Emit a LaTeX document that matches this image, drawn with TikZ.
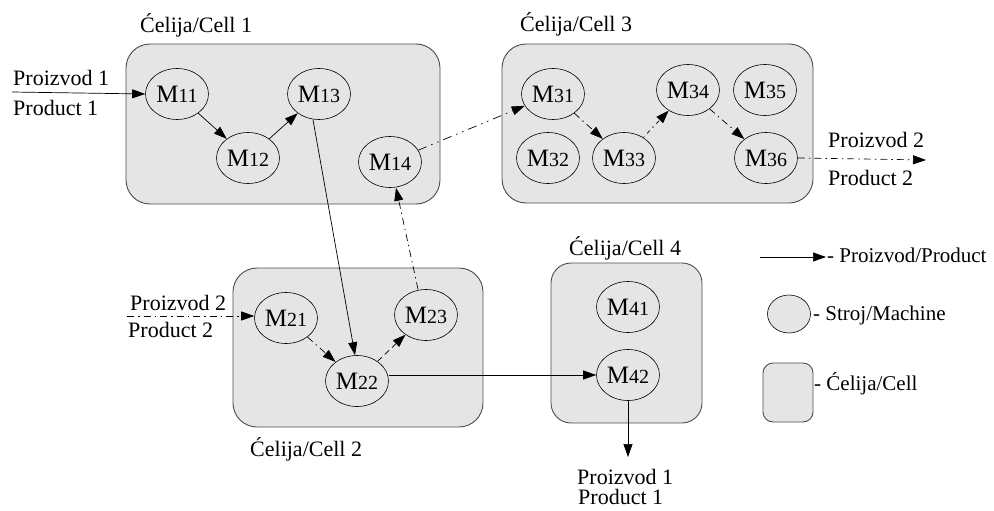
\documentclass[tikz,border=0pt]{standalone}
\usepackage{fontspec}
\setmainfont{Liberation Serif}
\usetikzlibrary{shapes.geometric,arrows.meta}

\newcommand{\mach}[2]{{\fontsize{25}{28}\selectfont M}{\fontsize{20}{24}\selectfont #1#2}}

\begin{document}
\begin{tikzpicture}[x=1pt,y=-1pt,
  txt/.style={font=\fontsize{22}{26}\selectfont, inner sep=0pt, anchor=base west},
  legtxt/.style={font=\fontsize{21}{25}\selectfont, inner sep=0pt, anchor=base west},
  cellbox/.style={draw=black!70, line width=0.9pt, fill=black!10, rectangle,
    rounded corners=24pt, inner sep=0pt},
  machine/.style={draw=black, line width=0.6pt, fill=black!10, ellipse, inner sep=0pt,
    minimum width=63pt, minimum height=51pt},
  flow/.style={line width=0.7pt, -{Triangle[length=13pt,width=9pt]}},
  dd/.style={dash pattern=on 7pt off 4pt on 1.5pt off 4pt},
  ddd/.style={dash pattern=on 9pt off 5pt on 1.5pt off 5pt on 1.5pt off 5pt},
  dotd/.style={dash pattern=on 1.5pt off 4pt on 4pt off 4pt}]

\useasboundingbox (0,0) rectangle (994,511);

% cells
\node[cellbox, minimum width=314pt, minimum height=160pt] (c1) at (283,124) {};
\node[cellbox, minimum width=311pt, minimum height=159pt] (c3) at (657.5,123.5) {};
\node[cellbox, minimum width=250pt, minimum height=159pt] (c2) at (358,347.5) {};
\node[cellbox, minimum width=151pt, minimum height=160pt, rounded corners=20pt] (c4) at (626.5,343) {};

\node[txt] (l1) at (140,33) {Ćelija/Cell 1};
\node[txt] (l3) at (520,32) {Ćelija/Cell 3};
\node[txt] (l2) at (250,456) {Ćelija/Cell 2};
\node[txt] (l4) at (569,255) {Ćelija/Cell 4};

% machines, cell 1
\node[machine] (m11) at (177,94) {\mach11};
\node[machine] (m12) at (248,158) {\mach12};
\node[machine] (m13) at (319,94) {\mach13};
\node[machine] (m14) at (390,162) {\mach14};
% cell 3
\node[machine] (m31) at (553,94) {\mach31};
\node[machine] (m32) at (548,158) {\mach32};
\node[machine] (m33) at (624,158) {\mach33};
\node[machine] (m34) at (688,90) {\mach34};
\node[machine] (m35) at (765,90) {\mach35};
\node[machine] (m36) at (766,158) {\mach36};
% cell 2
\node[machine] (m21) at (286,318) {\mach21};
\node[machine] (m22) at (357,381) {\mach22};
\node[machine] (m23) at (426,315) {\mach23};
% cell 4
\node[machine] (m41) at (628,307) {\mach41};
\node[machine] (m42) at (628,375) {\mach42};

% product labels
\node[txt] (p1a) at (13,86) {Proizvod 1};
\node[txt] (p1b) at (13,115) {Product 1};
\node[txt] (p2a) at (828,147) {Proizvod 2};
\node[txt] (p2b) at (828,185) {Product 2};
\node[txt] (p3a) at (130,310) {Proizvod 2};
\node[txt] (p3b) at (128,337) {Product 2};
\node[txt] (p4a) at (577,484) {Proizvod 1};
\node[txt] (p4b) at (578,504) {Product 1};

\coordinate (in1) at (12,92);
\coordinate (in2) at (127,316);
\coordinate (out2) at (926,160);
\coordinate (out1) at (628,457);

% product 1 route
\draw[flow] (in1) -- (m11.west);
\draw[flow] (m11) -- (m12);
\draw[flow] (m12) -- (m13);
\draw[flow] ([xshift=-6pt]m13.south) -- ([xshift=-2pt]m22.north);
\draw[flow] (m22.east |- m42.west) -- (m42.west);
\draw[flow] (m42.south) -- (out1);

% product 2 route
\draw[flow, dd] (in2) -- (m21.west |- in2);
\draw[flow, dd] (m21) -- (m22);
\draw[flow, dash pattern=on 6pt off 4pt] (m22) -- (m23);
\draw[flow, dd] ([xshift=-8pt]m23.north) -- ([xshift=6pt]m14.south);
\draw[flow, ddd] (m14) -- (m31);
\draw[flow, dd] (m31) -- (m33);
\draw[flow, dotd] (m33) -- (m34);
\draw[flow, dd] (m34) -- (m36);
\draw[flow, dd] (m36.east) -- (out2);

% legend
\coordinate (la) at (760,257);
\coordinate (lb) at (826,257);
\draw[flow] (la) -- (lb);
\node[legtxt] (lt1) at (827,262) {- Proizvod/Product};
\node[machine, minimum width=43pt, minimum height=38pt] (lm) at (789,314) {};
\node[legtxt] (lt2) at (813,320) {- Stroj/Machine};
\node[cellbox, minimum width=50pt, minimum height=59pt, rounded corners=10pt] (lc) at (788,392.5) {};
\node[legtxt] (lt3) at (814,390) {- Ćelija/Cell};
\end{tikzpicture}
\end{document}
